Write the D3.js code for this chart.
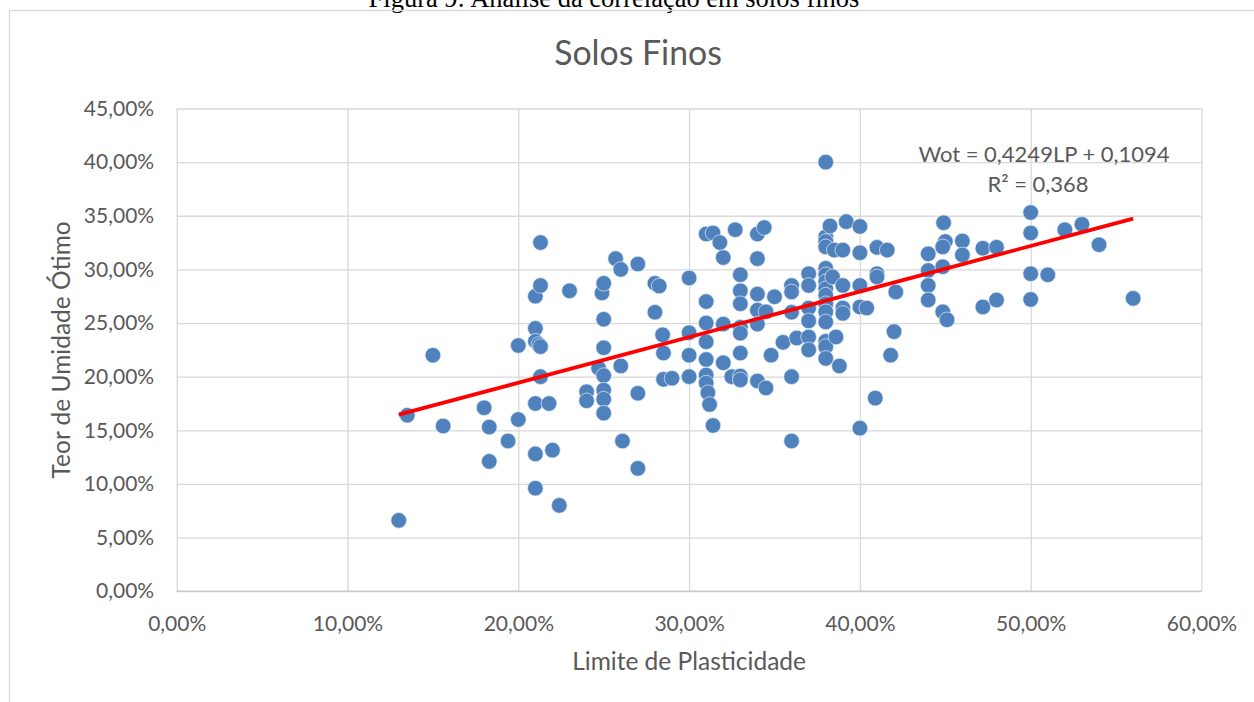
<!DOCTYPE html>
<html lang="pt">
<head>
<meta charset="utf-8">
<script src="https://cdn.jsdelivr.net/npm/d3@7/dist/d3.min.js"></script>
<style>
  html, body { margin: 0; padding: 0; background: #ffffff; }
  svg { display: block; }
</style>
</head>
<body>
<svg id="chart" width="1254" height="702"></svg>
<script>
// Limite de Plasticidade (LP, %) de cada amostra de solo fino
const limitePlasticidade = [
  13.0, 13.5, 15.0, 15.6, 18.0, 18.3, 18.3, 19.4, 20.0, 20.0,
  21.0, 21.0, 21.0, 21.0, 21.0, 21.0, 21.2, 21.3, 21.3, 21.3,
  21.3, 21.8, 22.0, 22.4, 23.0, 24.0, 24.0, 24.7, 24.9, 25.0,
  25.0, 25.0, 25.0, 25.0, 25.0, 25.0, 25.7, 26.0, 26.0, 26.1,
  27.0, 27.0, 27.0, 28.0, 28.0, 28.25, 28.45, 28.5, 28.5, 29.0,
  30.0, 30.0, 30.0, 30.0, 31.0, 31.0, 31.0, 31.0, 31.0, 31.0,
  31.0, 31.1, 31.2, 31.4, 31.4, 31.8, 32.0, 32.0, 32.0, 32.5,
  32.7, 33.0, 33.0, 33.0, 33.0, 33.0, 33.0, 33.0, 33.0, 34.0,
  34.0, 34.0, 34.0, 34.0, 34.0, 34.4, 34.5, 34.5, 34.8, 35.0,
  35.5, 36.0, 36.0, 36.0, 36.0, 36.0, 36.3, 37.0, 37.0, 37.0,
  37.0, 37.0, 37.0, 38.0, 38.0, 38.0, 38.0, 38.0, 38.0, 38.0,
  38.0, 38.0, 38.0, 38.0, 38.0, 38.0, 38.0, 38.0, 38.25, 38.4,
  38.5, 38.6, 38.8, 39.0, 39.0, 39.0, 39.0, 39.2, 40.0, 40.0,
  40.0, 40.0, 40.0, 40.4, 40.9, 41.0, 41.0, 41.0, 41.6, 41.8,
  42.0, 42.1, 44.0, 44.0, 44.0, 44.0, 44.9, 45.0, 44.85, 44.85,
  44.85, 45.1, 46.0, 46.0, 47.2, 47.2, 48.0, 48.0, 50.0, 50.0,
  50.0, 50.0, 51.0, 52.0, 53.0, 54.0, 56.0
];

// Teor de umidade ótimo (Wot, %) correspondente a cada amostra
const umidadeOtima = [
  6.6, 16.4, 22.0, 15.4, 17.1, 15.3, 12.1, 14.0, 16.0, 22.9,
  24.5, 23.3, 27.5, 17.5, 12.8, 9.6, 23.0, 22.8, 20.0, 32.5,
  28.5, 17.5, 13.15, 8.0, 28.0, 18.6, 17.75, 20.8, 27.8, 28.7,
  25.35, 22.7, 20.1, 18.75, 17.9, 16.6, 31.0, 30.0, 21.0, 14.0,
  30.5, 18.45, 11.45, 28.7, 26.0, 28.45, 23.9, 22.2, 19.75, 19.85,
  29.2, 24.1, 22.0, 20.0, 33.3, 27.0, 25.0, 23.25, 21.6, 20.15,
  19.4, 18.5, 17.4, 33.4, 15.45, 32.5, 31.1, 24.9, 21.3, 20.0,
  33.7, 29.5, 28.0, 26.8, 24.6, 24.05, 22.2, 20.05, 19.7, 33.3,
  31.0, 27.7, 26.2, 24.9, 19.6, 33.9, 26.05, 18.95, 22.0, 27.45,
  23.2, 28.5, 27.9, 26.0, 20.0, 14.0, 23.6, 29.6, 28.5, 26.4,
  25.2, 23.7, 22.5, 40.0, 33.05, 32.6, 32.1, 30.1, 29.5, 28.85,
  28.2, 27.6, 26.8, 26.05, 25.1, 23.3, 22.8, 21.7, 34.05, 29.3,
  31.8, 23.7, 21.0, 31.8, 28.5, 26.4, 25.9, 34.45, 34.0, 31.55,
  28.5, 26.5, 15.2, 26.4, 18.0, 32.05, 29.6, 29.3, 31.8, 22.0,
  24.2, 27.9, 31.45, 29.9, 28.5, 27.15, 34.35, 32.6, 32.1, 30.25,
  26.05, 25.3, 32.65, 31.35, 31.97, 26.5, 32.06, 27.15, 35.3, 33.4,
  29.6, 27.2, 29.5, 33.7, 34.2, 32.3, 27.3
];

// Valores dos eixos (em %)
const xTicks = [0, 10, 20, 30, 40, 50, 60];
const yTicks = [0, 5, 10, 15, 20, 25, 30, 35, 40, 45];

// Reta de tendência linear (Wot = a·LP + b) e coeficiente de determinação
const tendenciaCoef = [0.4249, 0.1094];
const r2 = 0.368;

const textos = {
  legenda: "Figura 9: Análise da correlação em solos finos",
  titulo: "Solos Finos",
  eixoX: "Limite de Plasticidade",
  eixoY: "Teor de Umidade Ótimo",
  equacao: "Wot = 0,4249LP + 0,1094",
  r2: "R² = 0,368"
};

const pontos = limitePlasticidade.map((lp, i) => ({ lp, w: umidadeOtima[i] }));

const svg = d3.select("#chart");
const font = "Lato, 'Open Sans', sans-serif";
const grey = "#595959";

const plot = { left: 176.7, right: 1201.5, top: 108.5, bottom: 591.2 };

const x = d3.scaleLinear().domain([0, 60]).range([plot.left, plot.right]);
const y = d3.scaleLinear().domain([0, 45]).range([plot.bottom, plot.top]);

const fmt = v => v.toFixed(2).replace(".", ",") + "%";

// Legenda do documento, cortada pela borda superior da página
svg.append("text")
  .attr("x", 614).attr("y", 6.5)
  .attr("text-anchor", "middle")
  .attr("font-family", "'Liberation Serif', 'Times New Roman', serif")
  .attr("font-size", 26.5)
  .attr("fill", "#000000")
  .text(textos.legenda);

// Moldura da área do gráfico
svg.append("rect")
  .attr("x", 9.5).attr("y", 10.5)
  .attr("width", 1300).attr("height", 760)
  .attr("fill", "none")
  .attr("stroke", "#d9d9d9")
  .attr("stroke-width", 1.3);

// Título
svg.append("text")
  .attr("x", 638).attr("y", 65)
  .attr("text-anchor", "middle")
  .attr("font-family", font)
  .attr("font-size", 33.8)
  .attr("fill", grey)
  .text(textos.titulo);

// Linhas de grade verticais
svg.append("g")
  .attr("transform", `translate(0,${plot.bottom})`)
  .call(d3.axisBottom(x).tickValues(xTicks).tickSize(-(plot.bottom - plot.top)).tickFormat(""))
  .call(g => g.select(".domain").remove())
  .call(g => g.selectAll(".tick line").attr("stroke", "#d9d9d9").attr("stroke-width", 1.3));

// Linhas de grade horizontais
svg.append("g")
  .attr("transform", `translate(${plot.left},0)`)
  .call(d3.axisLeft(y).tickValues(yTicks).tickSize(-(plot.right - plot.left)).tickFormat(""))
  .call(g => g.select(".domain").remove())
  .call(g => g.selectAll(".tick line").attr("stroke", "#d9d9d9").attr("stroke-width", 1.3));

// Linha do eixo horizontal
svg.append("line")
  .attr("x1", plot.left).attr("x2", plot.right)
  .attr("y1", y(0)).attr("y2", y(0))
  .attr("stroke", "#c8c8c8").attr("stroke-width", 1.5);

// Rótulos do eixo X
svg.append("g")
  .attr("transform", `translate(0,${plot.bottom})`)
  .call(d3.axisBottom(x).tickValues(xTicks).tickSize(0).tickPadding(24.5).tickFormat(fmt))
  .call(g => g.select(".domain").remove())
  .call(g => g.selectAll("text").attr("font-family", font).attr("font-size", 21).attr("fill", grey));

// Rótulos do eixo Y
svg.append("g")
  .attr("transform", `translate(${plot.left},0)`)
  .call(d3.axisLeft(y).tickValues(yTicks).tickSize(0).tickPadding(22.5).tickFormat(fmt))
  .call(g => g.select(".domain").remove())
  .call(g => g.selectAll("text").attr("font-family", font).attr("font-size", 21).attr("fill", grey));

// Títulos dos eixos
svg.append("text")
  .attr("x", (plot.left + plot.right) / 2).attr("y", 669.5)
  .attr("text-anchor", "middle")
  .attr("font-family", font).attr("font-size", 24.5)
  .attr("fill", grey)
  .text(textos.eixoX);

svg.append("text")
  .attr("transform", `translate(69.5,${(plot.top + plot.bottom) / 2}) rotate(-90)`)
  .attr("text-anchor", "middle")
  .attr("font-family", font).attr("font-size", 24.5)
  .attr("fill", grey)
  .text(textos.eixoY);

// Pontos
svg.append("g")
  .selectAll("circle")
  .data(pontos)
  .join("circle")
  .attr("cx", d => x(d.lp))
  .attr("cy", d => y(d.w))
  .attr("r", 7.8)
  .attr("fill", "#4f81bd")
  .attr("stroke", "#e4ecf6")
  .attr("stroke-width", 0.7);

// Linha de tendência, do menor ao maior LP
const [a, b] = tendenciaCoef;
const lpExt = d3.extent(limitePlasticidade);
const tendencia = lpExt.map(lp => ({ lp, w: (a * lp / 100 + b) * 100 }));
svg.append("path")
  .datum(tendencia)
  .attr("d", d3.line().x(d => x(d.lp)).y(d => y(d.w)))
  .attr("fill", "none")
  .attr("stroke", "#ff0000")
  .attr("stroke-width", 3.8);

// Equação e R²
const eq = svg.append("g")
  .attr("font-family", font).attr("font-size", 22)
  .attr("fill", grey)
  .attr("text-anchor", "middle");
eq.append("text").attr("x", 1044).attr("y", 161.7).text(textos.equacao);
eq.append("text").attr("x", 1038).attr("y", 192.3).text(textos.r2);
</script>
</body>
</html>
